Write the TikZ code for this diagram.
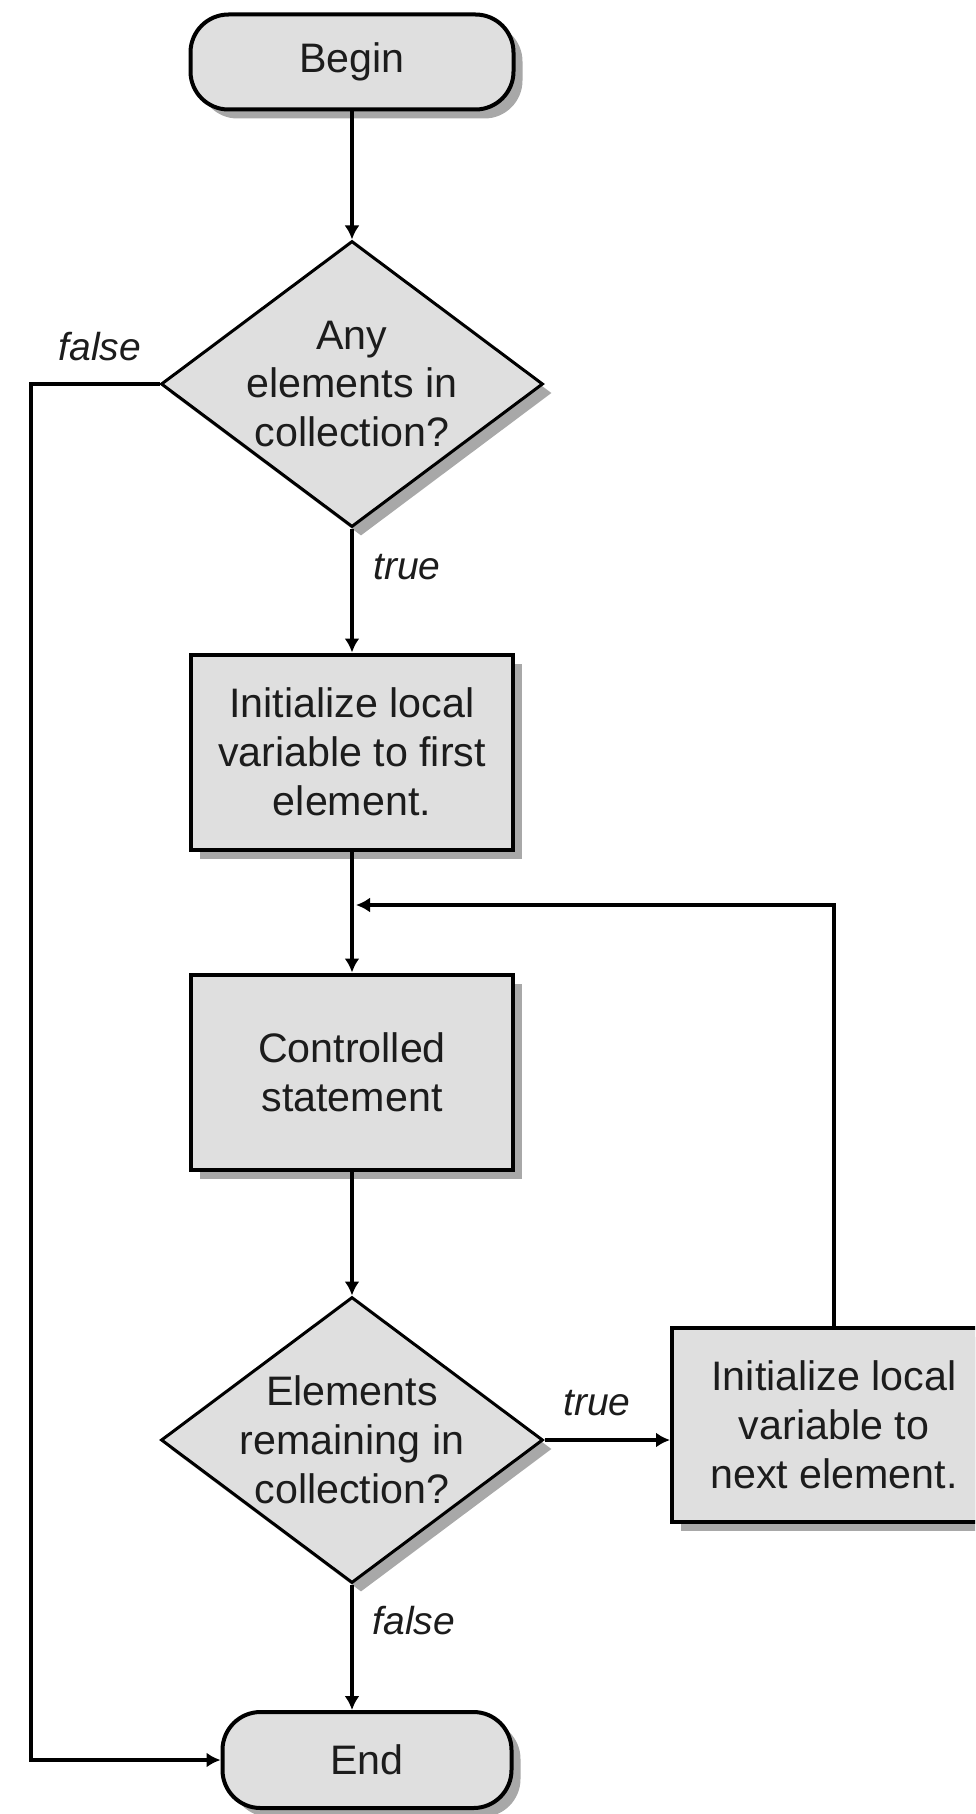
\documentclass[tikz,border=0pt]{standalone}
\usepackage{fontspec}
\setmainfont{Liberation Sans}
\usetikzlibrary{shapes.geometric,shadows,arrows.meta,calc}
\definecolor{boxfill}{RGB}{223,223,223}
\definecolor{shadowgray}{RGB}{168,168,168}
\definecolor{txt}{RGB}{28,28,28}
\begin{document}
\begin{tikzpicture}[x=0.5pt,y=-0.5pt,
  base/.style={draw=black, fill=boxfill, text=txt,
    font=\fontsize{20.6pt}{24.4pt}\selectfont, align=center,
    drop shadow={shadow xshift=4.5pt, shadow yshift=-4.5pt, fill=shadowgray, opacity=1}},
  procbox/.style={base, rectangle, line width=2pt, inner sep=0pt},
  termbox/.style={base, rectangle, rounded corners=19pt, line width=2pt, inner sep=0pt},
  decbox/.style={base, diamond, line width=1.5pt, inner sep=-12pt,
    minimum width=191pt, minimum height=143pt},
  flow/.style={line width=1.6pt, -{Latex[length=7pt,width=7.5pt]}},
  lbl/.style={text=txt, font=\fontsize{19.5pt}{23pt}\selectfont\itshape, inner sep=0pt}]
\useasboundingbox (0,0) rectangle (975,1814);
\clip (0,0) rectangle (975,1814);

\node[termbox, minimum width=161.5pt, minimum height=47.5pt] (begin) at (352,62) {Begin};
\node[decbox] (d1) at (352,384) {Any\\elements in\\collection?};
\node[procbox, minimum width=161pt, minimum height=97.5pt] (b1) at (352,752) {Initialize local\\variable to first\\element.};
\node[procbox, minimum width=161pt, minimum height=97.5pt] (b2) at (352,1072) {Controlled\\statement};
\node[decbox] (d2) at (352,1440) {Elements\\remaining in\\collection?};
\node[procbox, minimum width=162pt, minimum height=97pt] (b3) at (834,1425) {Initialize local\\variable to\\next element.};
\node[termbox, minimum width=144.5pt, minimum height=48pt] (end) at (367,1760) {End};

\coordinate (merge) at (356,905);
\coordinate (rail) at (31,0);

\draw[flow] (begin) -- (d1);
\draw[flow] (d1) -- (b1);
\draw[flow] (b1) -- (b2);
\draw[flow] (b2) -- (d2);
\draw[flow] (d2.east) -- (d2.east -| b3.west);
\draw[flow] (b3.north) |- (merge);
\draw[flow] (d2.south) -- (d2.south |- end.north);
\draw[flow] (d1.west) -- (d1.west -| rail) |- (end.west);

\node[lbl] (f1) at (100,347) {false};
\node[lbl] (t1) at (407,567) {true};
\node[lbl] (t2) at (597,1403) {true};
\node[lbl] (f2) at (414,1621) {false};
\end{tikzpicture}
\end{document}
